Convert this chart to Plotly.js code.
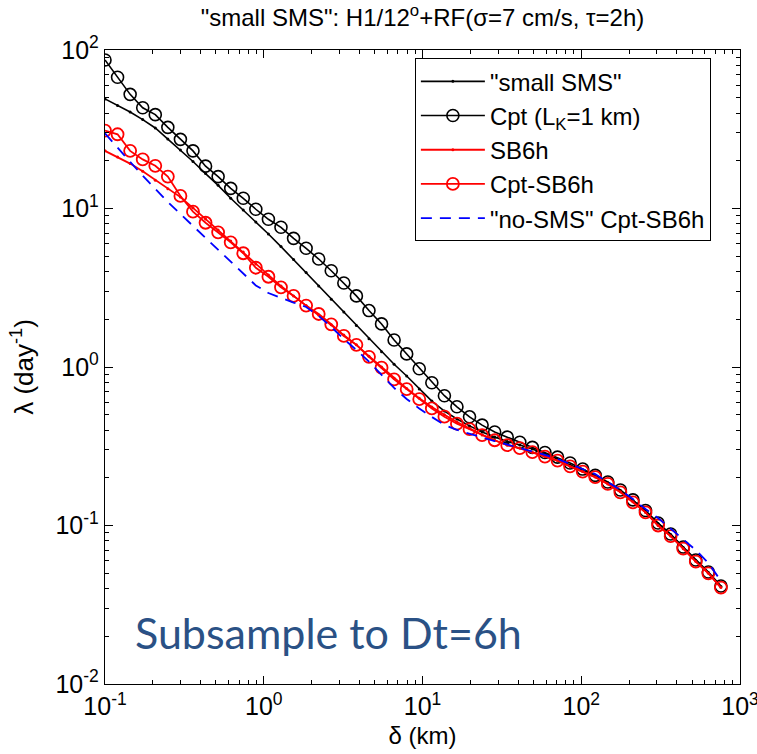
<!DOCTYPE html>
<html>
<head>
<meta charset="utf-8">
<script src="https://cdn.plot.ly/plotly-3.0.1.min.js"></script>
<style>html,body{margin:0;padding:0;background:#fff;}#chart{width:757px;height:754px;}</style>
</head>
<body>
<div id="chart"></div>
<script>
// separation delta (km)
const delta = [0.1, 0.12, 0.144, 0.1728, 0.2074, 0.2488, 0.2986, 0.3583, 0.43, 0.516,
  0.6192, 0.743, 0.8916, 1.07, 1.284, 1.541, 1.849, 2.219, 2.662, 3.195,
  3.834, 4.601, 5.521, 6.625, 7.95, 9.54, 11.45, 13.74, 16.48, 19.78,
  23.74, 28.49, 34.18, 41.02, 49.22, 59.07, 70.88, 85.06, 102.1, 122.5,
  147.0, 176.4, 211.6, 254.0, 304.8, 365.7, 438.9, 526.6, 632.0, 758.4];

// "small SMS" (black, dots)
const smallSMS = [49.1, 44.7, 40.6, 36.4, 32.2, 27.4, 23.4, 19.8, 16.6, 14.0,
  11.6, 9.79, 8.22, 6.90, 5.75, 4.76, 3.94, 3.24, 2.68, 2.22,
  1.83, 1.51, 1.25, 1.04, 0.877, 0.726, 0.610, 0.527, 0.470, 0.425,
  0.389, 0.362, 0.339, 0.322, 0.304, 0.283, 0.263, 0.241, 0.224, 0.205,
  0.186, 0.166, 0.144, 0.123, 0.103, 0.0878, 0.0726, 0.0602, 0.0505, 0.0412];

// Cpt (L_K = 1 km) (black, circles)
const cptLK = [86.5, 67.3, 52.5, 43.2, 39.1, 32.5, 27.3, 23.1, 18.5, 15.9,
  13.4, 11.6, 9.89, 8.55, 7.61, 6.48, 5.61, 4.80, 4.05, 3.39,
  2.81, 2.27, 1.87, 1.48, 1.21, 0.975, 0.796, 0.659, 0.561, 0.485,
  0.430, 0.389, 0.361, 0.335, 0.311, 0.289, 0.270, 0.248, 0.227, 0.207,
  0.188, 0.1675, 0.145, 0.1244, 0.1037, 0.0884, 0.0731, 0.0606, 0.0509, 0.0415];

// SB6h (red, dots)
const sb6h = [23.1, 21.1, 19.2, 17.2, 15.1, 13.3, 11.8, 10.1, 8.59, 7.32,
  6.23, 5.32, 4.47, 3.80, 3.24, 2.81, 2.44, 2.13, 1.85, 1.59,
  1.38, 1.17, 1.00, 0.85, 0.733, 0.636, 0.56, 0.50, 0.45, 0.41,
  0.373, 0.345, 0.321, 0.307, 0.289, 0.272, 0.257, 0.236, 0.219, 0.202,
  0.183, 0.163, 0.141, 0.121, 0.100, 0.0858, 0.0714, 0.0592, 0.0500, 0.0406];

// Cpt-SB6h (red, circles)
const cptSB6h = [31.0, 29.4, 23.1, 20.4, 18.6, 15.9, 12.0, 9.55, 8.13, 7.07,
  6.12, 5.22, 4.23, 3.71, 3.18, 2.81, 2.44, 2.16, 1.86, 1.57,
  1.38, 1.16, 0.99, 0.835, 0.725, 0.627, 0.548, 0.486, 0.439, 0.405,
  0.372, 0.345, 0.321, 0.308, 0.290, 0.272, 0.257, 0.236, 0.219, 0.202,
  0.183, 0.162, 0.140, 0.121, 0.100, 0.0858, 0.0714, 0.0591, 0.0499, 0.0405];

// "no-SMS" Cpt-SB6h (blue dashed)
const noSMS = [29.8, 24.1, 19.7, 16.1, 13.3, 11.0, 9.23, 7.76, 6.52, 5.47,
  4.63, 3.92, 3.27, 2.93, 2.72, 2.55, 2.39, 2.10, 1.79, 1.50,
  1.28, 1.08, 0.891, 0.738, 0.628, 0.547, 0.484, 0.431, 0.401, 0.378,
  0.359, 0.341, 0.324, 0.308, 0.295, 0.279, 0.263, 0.244, 0.227, 0.211,
  0.188, 0.1675, 0.147, 0.127, 0.1114, 0.0951, 0.0811, 0.070, 0.058, 0.0447];

const tickVals = [0.1, 1, 10, 100, 1000];
const xTickText = ['10<sup>-1</sup>', '10<sup>0</sup>', '10<sup>1</sup>', '10<sup>2</sup>', '10<sup>3</sup>'];
const yTickVals = [0.01, 0.1, 1, 10, 100];
const yTickText = ['10<sup>-2</sup>', '10<sup>-1</sup>', '10<sup>0</sup>', '10<sup>1</sup>', '10<sup>2</sup>'];

const FONT = 'Liberation Sans, Arial, sans-serif';

const traces = [
  {x: delta, y: smallSMS, name: '"small SMS"', mode: 'lines+markers',
   line: {color: 'black', width: 1.6}, marker: {size: 3, color: 'black'}},
  {x: delta, y: cptLK, name: 'Cpt (L<sub>K</sub>=1 km)', mode: 'lines+markers',
   line: {color: 'black', width: 1.6},
   marker: {symbol: 'circle-open', size: 12, color: 'black', line: {width: 1.6}}},
  {x: delta, y: sb6h, name: 'SB6h', mode: 'lines+markers',
   line: {color: '#ff0000', width: 1.8}, marker: {size: 3, color: '#ff0000'}},
  {x: delta, y: cptSB6h, name: 'Cpt-SB6h', mode: 'lines+markers',
   line: {color: '#ff0000', width: 1.8},
   marker: {symbol: 'circle-open', size: 12, color: '#ff0000', line: {width: 1.8}}},
  {x: delta, y: noSMS, name: '"no-SMS" Cpt-SB6h', mode: 'lines',
   line: {color: '#0000ff', width: 1.8, dash: '11px,8px'}}
];

const axisCommon = {
  type: 'log', showgrid: false, zeroline: false,
  showline: true, linecolor: 'black', linewidth: 1.2, mirror: 'ticks',
  ticks: 'inside', ticklen: 8, tickcolor: 'black', tickwidth: 1,
  minor: {ticks: 'inside', ticklen: 4, tickcolor: 'black', dtick: 'D1', showgrid: false},
  tickfont: {family: FONT, size: 25, color: 'black'},
  ticklabeloverflow: 'allow'
};

const layout = {
  width: 757, height: 754,
  margin: {l: 105, r: 17, t: 50, b: 70},
  paper_bgcolor: 'white', plot_bgcolor: 'white',
  font: {family: FONT, color: 'black'},
  title: {text: '"small SMS": H1/12<sup>o</sup>+RF(σ=7 cm/s, τ=2h)',
          font: {family: FONT, size: 24, color: 'black'},
          x: 0.5, xref: 'paper', xanchor: 'center', y: 0.976, yref: 'container', yanchor: 'middle'},
  xaxis: Object.assign({}, axisCommon, {
    range: [-1, 3], tickvals: tickVals, ticktext: xTickText,
    title: {text: 'δ (km)', font: {family: FONT, size: 24, color: 'black'}, standoff: 8}
  }),
  yaxis: Object.assign({}, axisCommon, {
    range: [-2, 2], tickvals: yTickVals, ticktext: yTickText,
    title: {text: 'λ (day<sup>-1</sup>)', font: {family: FONT, size: 26, color: 'black'}, standoff: 14}
  }),
  showlegend: true,
  legend: {
    x: 0.488, y: 0.987, xanchor: 'left', yanchor: 'top',
    bgcolor: 'white', bordercolor: 'black', borderwidth: 1,
    font: {family: FONT, size: 24, color: 'black'},
    tracegroupgap: 0, itemwidth: 64
  },
  annotations: [{
    text: 'Subsample to Dt=6h', xref: 'paper', yref: 'paper',
    x: (133 - 105) / 635, y: (684 - 632) / 634, xanchor: 'left', yanchor: 'middle',
    showarrow: false, font: {family: 'Lato, Open Sans, sans-serif', size: 43, color: '#2A5185'}
  }]
};

Plotly.newPlot('chart', traces, layout, {displayModeBar: false, staticPlot: true});
</script>
</body>
</html>
